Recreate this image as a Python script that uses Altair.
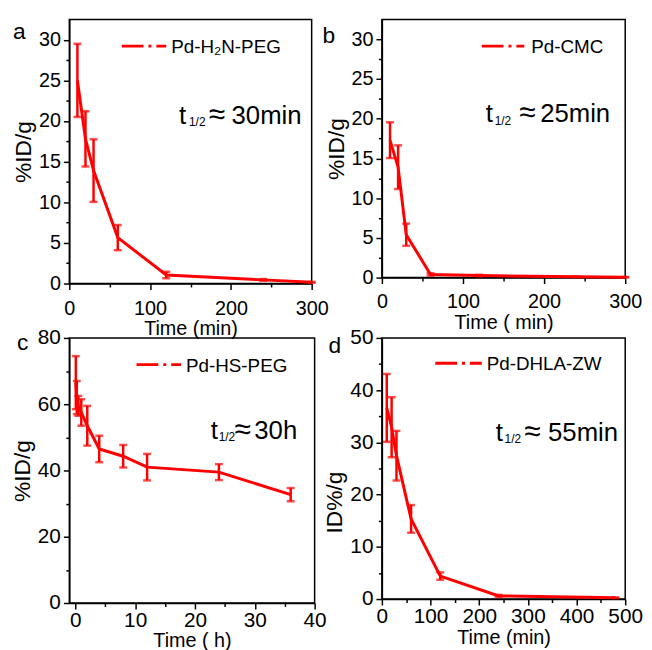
import altair as alt
import pandas as pd

FONT = "Liberation Sans"
RED = "#ff0000"

# ---- data ----
a_time = [10, 20, 30, 60, 120, 240, 300]
a_val = [25.0, 17.8, 13.9, 5.65, 1.05, 0.45, 0.15]
a_err = [4.5, 3.4, 3.85, 1.55, 0.4, 0.1, 0.05]

b_time = [10, 20, 30, 60, 120, 240, 300]
b_val = [17.3, 13.9, 5.4, 0.4, 0.25, 0.1, 0.05]
b_err = [2.25, 2.75, 1.4, 0.15, 0.1, 0.05, 0.02]

c_time = [0.083, 0.25, 0.5, 1, 2, 4, 8, 12, 24, 36]
c_val = [66.5, 62.0, 59.5, 57.5, 53.5, 46.5, 44.3, 41.0, 39.5, 32.7]
c_err = [8.0, 5.0, 3.0, 4.0, 6.0, 4.0, 3.4, 4.0, 2.4, 2.0]

d_time = [10, 20, 30, 60, 120, 240, 480]
d_val = [36.6, 32.9, 27.45, 15.35, 4.4, 0.6, 0.25]
d_err = [6.5, 5.75, 4.75, 2.65, 0.7, 0.2, 0.05]

one = pd.DataFrame({"k": [0]})


def txt(s, x, y, size, align="left", baseline="alphabetic"):
    return alt.Chart(one).mark_text(
        text=s, font=FONT, fontSize=size, color="black", align=align, baseline=baseline
    ).encode(x=alt.value(x), y=alt.value(y))


def panel(time, val, err, w, h, xdom, xticks, xstep, ydom, yticks, ystep,
          xtitle, ytitle, fs, xlabpad, xtitlepad, letter, lxy, legend, leg, ann, ap,
          ytitle_y=None):
    df = pd.DataFrame({"t": time, "v": val,
                       "lo": [v - e for v, e in zip(val, err)],
                       "hi": [v + e for v, e in zip(val, err)]})
    xaxis = alt.Axis(values=xticks, format="d",
                     labelExpr=f"datum.value % {xstep} == 0 ? datum.label : ''",
                     tickSize={"condition": {"test": f"datum.value % {xstep} == 0", "value": 6}, "value": 3.5},
                     labelFontSize=fs, titleFontSize=20, labelPadding=xlabpad,
                     titlePadding=xtitlepad, labelFlush=False, labelOverlap=False)
    yargs = dict(values=yticks, format="d",
                 labelExpr=f"datum.value % {ystep} == 0 ? datum.label : ''",
                 tickSize={"condition": {"test": f"datum.value % {ystep} == 0", "value": 6}, "value": 3.5},
                 labelFontSize=fs, titleFontSize=23, labelPadding=3, titlePadding=3,
                 labelFlush=False, labelOverlap=False)
    if ytitle_y is not None:
        yargs["titleY"] = ytitle_y
    yaxis = alt.Axis(**yargs)
    xs = alt.Scale(domain=xdom, nice=False, zero=False)
    ys = alt.Scale(domain=ydom, nice=False, zero=False)
    X = alt.X("t:Q", scale=xs, axis=xaxis, title=xtitle)
    base = alt.Chart(df)
    line = base.mark_line(color=RED, strokeWidth=3).encode(
        x=X, y=alt.Y("v:Q", scale=ys, axis=yaxis, title=ytitle))
    rules = base.mark_rule(color=RED, strokeWidth=2.5).encode(
        x=X, y=alt.Y("lo:Q", scale=ys, axis=yaxis, title=ytitle), y2="hi:Q")
    cap_lo = base.mark_tick(color=RED, orient="horizontal", size=8, thickness=2.5).encode(
        x=X, y=alt.Y("lo:Q", scale=ys, axis=yaxis, title=ytitle))
    cap_hi = base.mark_tick(color=RED, orient="horizontal", size=8, thickness=2.5).encode(
        x=X, y=alt.Y("hi:Q", scale=ys, axis=yaxis, title=ytitle))
    leg_line = alt.Chart(one).mark_rule(color=RED, strokeWidth=3, strokeDash=[22, 5, 3, 5]).encode(
        x=alt.value(leg[0]), x2=alt.value(leg[1]), y=alt.value(leg[2]))
    leg_text = txt(legend, leg[3], leg[4], 19)
    lab = txt(letter, lxy[0], lxy[1], 23)
    t1 = txt("t", ap[0], ap[4], 26)
    t2 = txt("1/2", ap[1], ap[5], 12)
    t3 = txt("≈", ap[2], ap[4], 30)
    t4 = txt(ann, ap[3], ap[4], 26)
    return alt.layer(line, rules, cap_lo, cap_hi, leg_line, leg_text, lab, t1, t2, t3, t4).properties(
        width=w, height=h)


pa = panel(a_time, a_val, a_err, 245, 267, [0, 300], list(range(0, 301, 50)), 100,
           [0, 32.5], [i * 2.5 for i in range(13)], 5, "Time (min)", "%ID/g", 20, 9, 1,
           "a", (-57, 20), "Pd-H₂N-PEG", (53, 98, 27, 103, 33.5),
           "30min", (111, 121, 141, 164, 106, 108))

pb = panel(b_time, b_val, b_err, 246, 261, [0, 300], list(range(0, 301, 50)), 100,
           [0, 32.5], [i * 2.5 for i in range(13)], 5, "Time ( min)", "%ID/g", 20, 8, 1,
           "b", (-60, 24), "Pd-CMC", (101, 144, 27, 151, 33.5),
           "25min", (105, 114, 139, 160, 104, 106.5))

pc = panel(c_time, c_val, c_err, 248, 268, [-1, 40], list(range(0, 41, 5)), 10,
           [0, 80], list(range(0, 81, 10)), 20, "Time ( h)", "%ID/g", 21, 1, 0,
           "c", (-53, 12), "Pd-HS-PEG", (68, 113, 27, 118, 34),
           "30h", (143, 151, 167, 187, 102, 104.5))

pd_ = panel(d_time, d_val, d_err, 246, 264, [0, 500], list(range(0, 501, 50)), 100,
            [0, 50], list(range(0, 51, 5)), 10, "Time (min)", "ID%/g", 21, 1, 1,
            "d", (-54, 15), "Pd-DHLA-ZW", (54, 101, 25.5, 106, 32),
            "55min", (115, 124, 144, 168, 104, 106), ytitle_y=166)

chart = alt.concat(pa, pb, pc, pd_, columns=2, spacing={"row": 55, "column": 68},
                   bounds="flush").properties(
    padding={"left": 2, "top": 7, "right": 0, "bottom": 0}
).configure_view(stroke="black", strokeWidth=1.5).configure_axis(
    domainColor="black", domainWidth=1.5, tickColor="black", tickWidth=1.5,
    grid=False, labelFont=FONT, titleFont=FONT, labelColor="black",
    titleColor="black", titleFontWeight="normal"
)

chart.save("out.html", embed_options={"renderer": "svg", "actions": False})
